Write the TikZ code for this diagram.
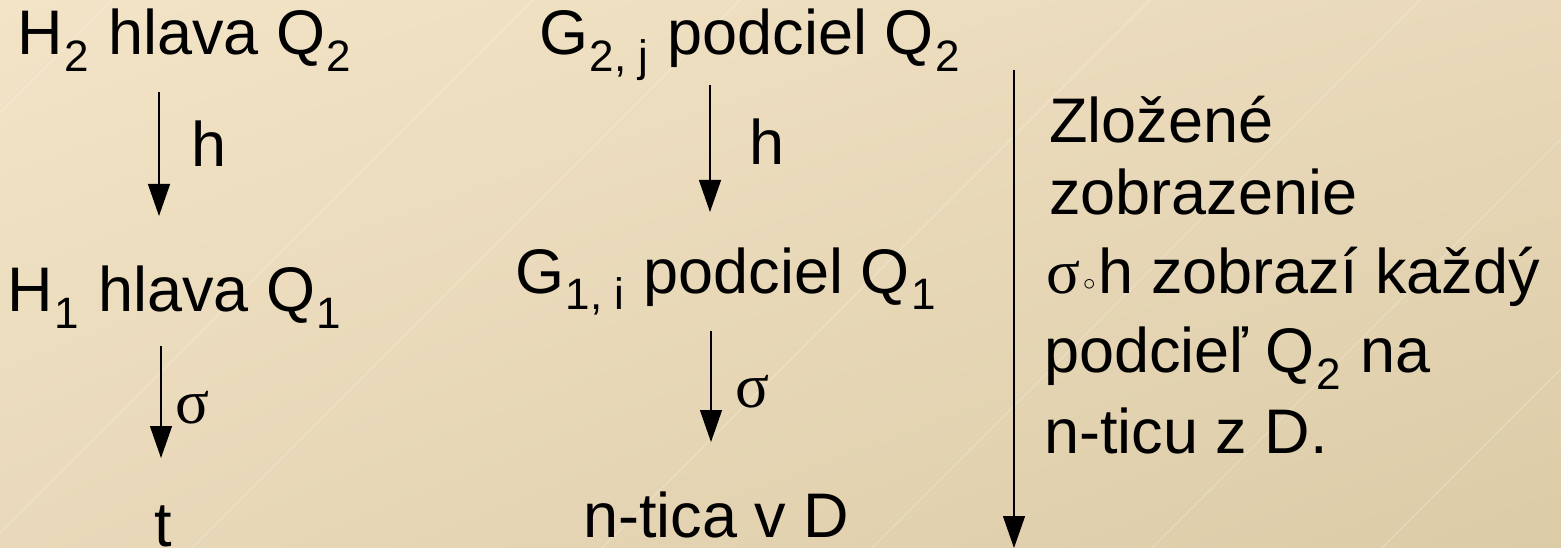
\documentclass[tikz,border=0pt]{standalone}
\usepackage{fontspec}
\setmainfont{Liberation Sans}
\newfontfamily\grk{Liberation Serif}
\usetikzlibrary{arrows.meta,shadings}
\definecolor{bgA}{RGB}{243,228,199}
\definecolor{bgB}{RGB}{233,217,186}
\definecolor{bgC}{RGB}{219,203,166}
\newcommand{\sbs}[1]{\kern1.5pt\relax\raisebox{-17pt}{\fontsize{44pt}{44pt}\selectfont #1}\kern2pt\relax}
\newcommand{\sig}{{\grk σ}}
\newcommand{\cmp}{\kern3pt\relax\raisebox{2pt}{\fontsize{32pt}{32pt}\selectfont$\circ$}\kern3pt\relax}
\begin{document}
\begin{tikzpicture}[x=1pt,y=-1pt,
  txt/.style={inner sep=0pt, anchor=base west, font=\fontsize{63pt}{72pt}\selectfont},
  arr/.style={line width=1.3pt, -{Triangle[length=32pt,width=22pt]}},
  stripe/.style={white, opacity=0.3, line width=0.8pt}]
\useasboundingbox (0,0) rectangle (1561,548);
\shade[upper left=bgA, upper right=bgB, lower left=bgB, lower right=bgC] (0,0) rectangle (1561,548);
\foreach \c in {113,533,740,1150,1420,1700,1930}
  \draw[stripe] (\c-548,548) -- (\c,0);
% left column
\node[txt] (h2) at (17,55) {H\sbs{2} hlava Q\sbs{2}};
\node[txt] (h1) at (7,311) {H\sbs{1} hlava Q\sbs{1}};
\node[txt, anchor=base] (t) at (163,546) {t};
\coordinate (a1s) at (159,92);
\coordinate (a1e) at (159,216);
\coordinate (a2s) at (161,346);
\coordinate (a2e) at (161,458);
\draw[arr] (a1s) -- (a1e);
\draw[arr] (a2s) -- (a2e);
\node[txt] (l1) at (191,167) {h};
\node[txt] (l2) at (175,423) {\sig};
% middle column
\node[txt] (g2) at (539,55) {G\sbs{2, j} podciel Q\sbs{2}};
\node[txt] (g1) at (515,293) {G\sbs{1, i} podciel Q\sbs{1}};
\node[txt] (nt) at (583,537) {n-tica v D};
\coordinate (a3s) at (710,85);
\coordinate (a3e) at (710,212);
\coordinate (a4s) at (711,331);
\coordinate (a4e) at (711,442);
\draw[arr] (a3s) -- (a3e);
\draw[arr] (a4s) -- (a4e);
\node[txt] (l3) at (749,165) {h};
\node[txt] (l4) at (735,407) {\sig};
% right column
\coordinate (a5s) at (1014,70);
\coordinate (a5e) at (1014,548);
\draw[arr] (a5s) -- (a5e);
\node[txt] (r1) at (1049,143) {Zložené};
\node[txt] (r2) at (1049,215) {zobrazenie};
\node[txt] (r3) at (1046,293) {\sig\cmp h zobrazí každý};
\node[txt] (r4) at (1044,372) {podcieľ Q\sbs{2} na};
\node[txt] (r5) at (1044,453) {n-ticu z D.};
\end{tikzpicture}
\end{document}
